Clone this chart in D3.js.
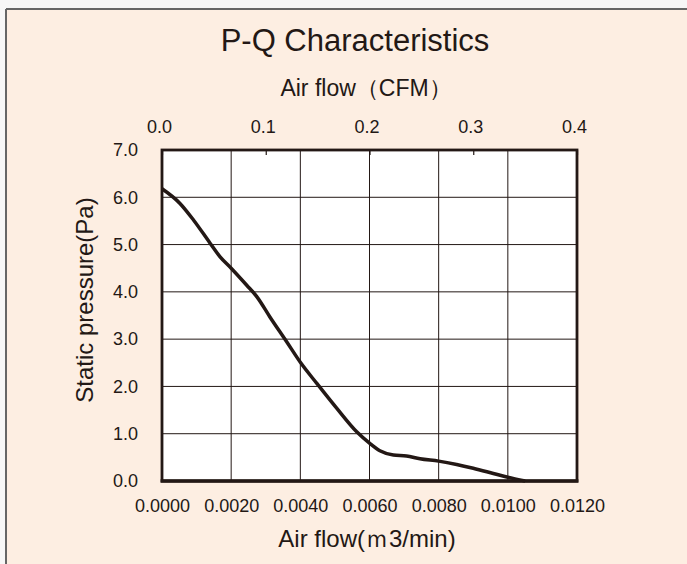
<!DOCTYPE html>
<html>
<head>
<meta charset="utf-8">
<script src="https://cdn.jsdelivr.net/npm/d3@7"></script>
<style>
html,body{margin:0;padding:0;background:#f7f7f7;}
svg{display:block;}
text{font-family:"Liberation Sans",Arial,sans-serif;fill:#231815;}
</style>
</head>
<body>
<svg id="chart" width="687" height="564"></svg>
<script>
// Data
const airflow = [0.0000,0.00052,0.00091,0.00139,0.00168,0.0020,0.00245,0.00274,0.00312,0.0036,0.0040,0.00447,0.00505,0.00563,0.0060,0.0063,0.00669,0.00707,0.00746,0.0080,0.00852,0.0090,0.00958,0.0100,0.0105];
const pressure = [6.18,5.87,5.52,5.03,4.74,4.50,4.14,3.90,3.47,2.95,2.51,2.07,1.54,1.04,0.80,0.64,0.55,0.53,0.47,0.42,0.35,0.27,0.16,0.08,0.0];
const xTicks = [0,0.002,0.004,0.006,0.008,0.010,0.012];
const yTicks = [0,1,2,3,4,5,6,7];
const cfmTicks = [0,0.1,0.2,0.3,0.4];

const svg = d3.select("#chart");
const W = 687, H = 564;
const plot = {left:162, right:577, top:150, bottom:481};
const ink = "#231815";

// panel background
svg.append("rect").attr("x",6).attr("y",9).attr("width",W).attr("height",H).attr("fill","#fdeee2");
svg.append("line").attr("x1",6).attr("y1",9).attr("x2",W).attr("y2",9).attr("stroke","#666").attr("stroke-width",2);
svg.append("line").attr("x1",6).attr("y1",9).attr("x2",6).attr("y2",H).attr("stroke","#666").attr("stroke-width",2);

const x = d3.scaleLinear().domain([0,0.012]).range([plot.left,plot.right]);
const y = d3.scaleLinear().domain([0,7]).range([plot.bottom,plot.top]);
const xc = d3.scaleLinear().domain([0,0.4]).range([plot.left,plot.right]);

// plot area
svg.append("rect").attr("x",plot.left).attr("y",plot.top)
  .attr("width",plot.right-plot.left).attr("height",plot.bottom-plot.top).attr("fill","#fff");

// grid
const g = svg.append("g");
g.selectAll(".vg").data(xTicks.slice(1,-1)).join("line")
  .attr("x1",d=>x(d)).attr("x2",d=>x(d)).attr("y1",plot.top).attr("y2",plot.bottom)
  .attr("stroke",ink).attr("stroke-width",1);
g.selectAll(".hg").data(yTicks.slice(1,-1)).join("line")
  .attr("x1",plot.left).attr("x2",plot.right).attr("y1",d=>y(d)).attr("y2",d=>y(d))
  .attr("stroke",ink).attr("stroke-width",1);

// curve
const line = d3.line().x((d,i)=>x(airflow[i])).y(d=>y(d)).curve(d3.curveMonotoneX);
svg.append("path").datum(pressure).attr("d",line).attr("fill","none")
  .attr("stroke",ink).attr("stroke-width",3.5).attr("stroke-linejoin","round");

// axes
const xAxis = d3.axisBottom(x).tickValues(xTicks).tickFormat(d3.format(".4f")).tickSize(0).tickPadding(18);
const gx = svg.append("g").attr("transform",`translate(0,${plot.bottom})`).call(xAxis);
const yAxis = d3.axisLeft(y).tickValues(yTicks).tickFormat(d3.format(".1f")).tickSize(0).tickPadding(24);
const gy = svg.append("g").attr("transform",`translate(${plot.left},0)`).call(yAxis);
const cAxis = d3.axisTop(xc).tickValues(cfmTicks).tickFormat(d3.format(".1f")).tickSizeInner(-5).tickSizeOuter(0).tickPadding(17);
const gc = svg.append("g").attr("transform",`translate(0,${plot.top})`).call(cAxis);
[gx,gy,gc].forEach(a=>{
  a.select(".domain").remove();
  a.selectAll("text").style("font-family",'"Liberation Sans",Arial,sans-serif').attr("fill",ink);
});
gx.selectAll("text").style("font-size","18px");
gy.selectAll("text").style("font-size","18px");
gc.selectAll("text").style("font-size","18px").attr("dx","-3");
gc.selectAll("line").attr("stroke",ink).attr("stroke-width",1.2);

// plot border
svg.append("rect").attr("x",plot.left).attr("y",plot.top)
  .attr("width",plot.right-plot.left).attr("height",plot.bottom-plot.top)
  .attr("fill","none").attr("stroke",ink).attr("stroke-width",2.8);
svg.append("line").attr("x1",plot.left-1.4).attr("x2",plot.right+1.4).attr("y1",plot.bottom).attr("y2",plot.bottom)
  .attr("stroke",ink).attr("stroke-width",3.6);

// titles
svg.append("text").attr("x",355).attr("y",51).attr("text-anchor","middle")
  .style("font-size","31px").text("P-Q Characteristics");
svg.append("text").attr("x",366).attr("y",96).attr("text-anchor","middle")
  .style("font-size","23px").text("Air flow（CFM）");
svg.append("text").attr("x",367).attr("y",547).attr("text-anchor","middle")
  .style("font-size","24px").text("Air flow(ｍ3/min)");
svg.append("text").attr("transform","translate(93,300) rotate(-90)").attr("text-anchor","middle")
  .style("font-size","24px").text("Static pressure(Pa)");
</script>
</body>
</html>
